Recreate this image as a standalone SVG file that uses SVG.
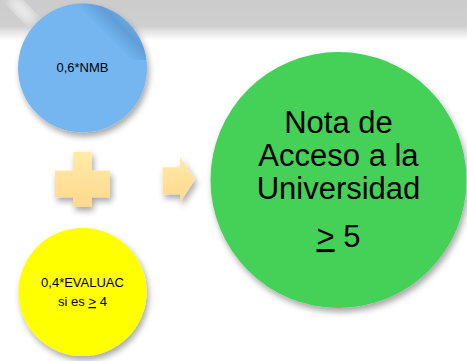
<svg xmlns="http://www.w3.org/2000/svg" width="467" height="361" viewBox="0 0 467 361">
  <defs>
    <linearGradient id="band" x1="0" y1="0" x2="0" y2="1">
      <stop offset="0" stop-color="#cccccc"/>
      <stop offset="0.65" stop-color="#cfcfcf"/>
      <stop offset="1" stop-color="#ffffff"/>
    </linearGradient>
    <linearGradient id="pale" x1="0" y1="0" x2="0" y2="1">
      <stop offset="0" stop-color="#FFEBA6"/>
      <stop offset="1" stop-color="#FFD88E"/>
    </linearGradient>
    <linearGradient id="fold" gradientUnits="userSpaceOnUse" x1="100" y1="30" x2="125" y2="5">
      <stop offset="0" stop-color="#3a6fa8" stop-opacity="0"/>
      <stop offset="0.5" stop-color="#3a6fa8" stop-opacity="0.35"/>
      <stop offset="1" stop-color="#3a6fa8" stop-opacity="0"/>
    </linearGradient>
    <clipPath id="bc"><circle cx="82.5" cy="68" r="64.5"/></clipPath>
    <filter id="sh" x="-20%" y="-20%" width="150%" height="150%">
      <feDropShadow dx="2" dy="4" stdDeviation="3" flood-color="#000" flood-opacity="0.35"/>
    </filter>
    <filter id="blur"><feGaussianBlur stdDeviation="5"/></filter>
  </defs>
  <style>
    .lbl { font-family: "Liberation Sans", Arial, sans-serif; fill: #000; text-anchor: middle; }
    .s { font-size: 13px; }
    .b { font-size: 31px; }
    .u { text-decoration: underline; }
  </style>
  <rect x="0" y="0" width="467" height="361" fill="#fff"/>
  <rect x="0" y="0" width="467" height="40" fill="url(#band)"/>
  <ellipse cx="22" cy="10" rx="6" ry="18" transform="rotate(-45 22 10)" fill="#fff" opacity="0.7" filter="url(#blur)"/>
  <g id="blue">
    <circle cx="82.5" cy="68" r="64.5" fill="#74B6F0" filter="url(#sh)"/>
    <rect x="60" y="0" width="100" height="60" fill="url(#fold)" clip-path="url(#bc)"/>
    <text class="lbl s" x="82.5" y="72">0,6*NMB</text>
  </g>
  <g id="yellow">
    <circle cx="82.5" cy="292" r="64" fill="#FFFF00" filter="url(#sh)"/>
    <text class="lbl s" x="82.5" y="287">0,4*EVALUAC</text>
    <text class="lbl s" x="82.5" y="306">si es <tspan class="u">&gt;</tspan> 4</text>
  </g>
  <g id="plus">
    <path d="M73.3,151.7 H91.7 V170.7 H110 V197.3 H91.7 V206.7 H73.3 V197.3 H55 V170.7 H73.3 Z" fill="url(#pale)" filter="url(#sh)"/>
  </g>
  <g id="connectors">
    <path d="M162.7,167.3 H180 V156.7 L195,179.5 L180,202.7 V194.3 H162.7 Z" fill="url(#pale)" filter="url(#sh)"/>
  </g>
  <g id="green">
    <circle cx="338.5" cy="180" r="128" fill="#44D058" filter="url(#sh)"/>
    <text class="lbl b" x="338.5" y="133">Nota de</text>
    <text class="lbl b" x="338.5" y="166">Acceso a la</text>
    <text class="lbl b" x="338.5" y="199">Universidad</text>
    <text class="lbl b" x="338.5" y="247"><tspan class="u">&gt;</tspan> 5</text>
  </g>
</svg>
